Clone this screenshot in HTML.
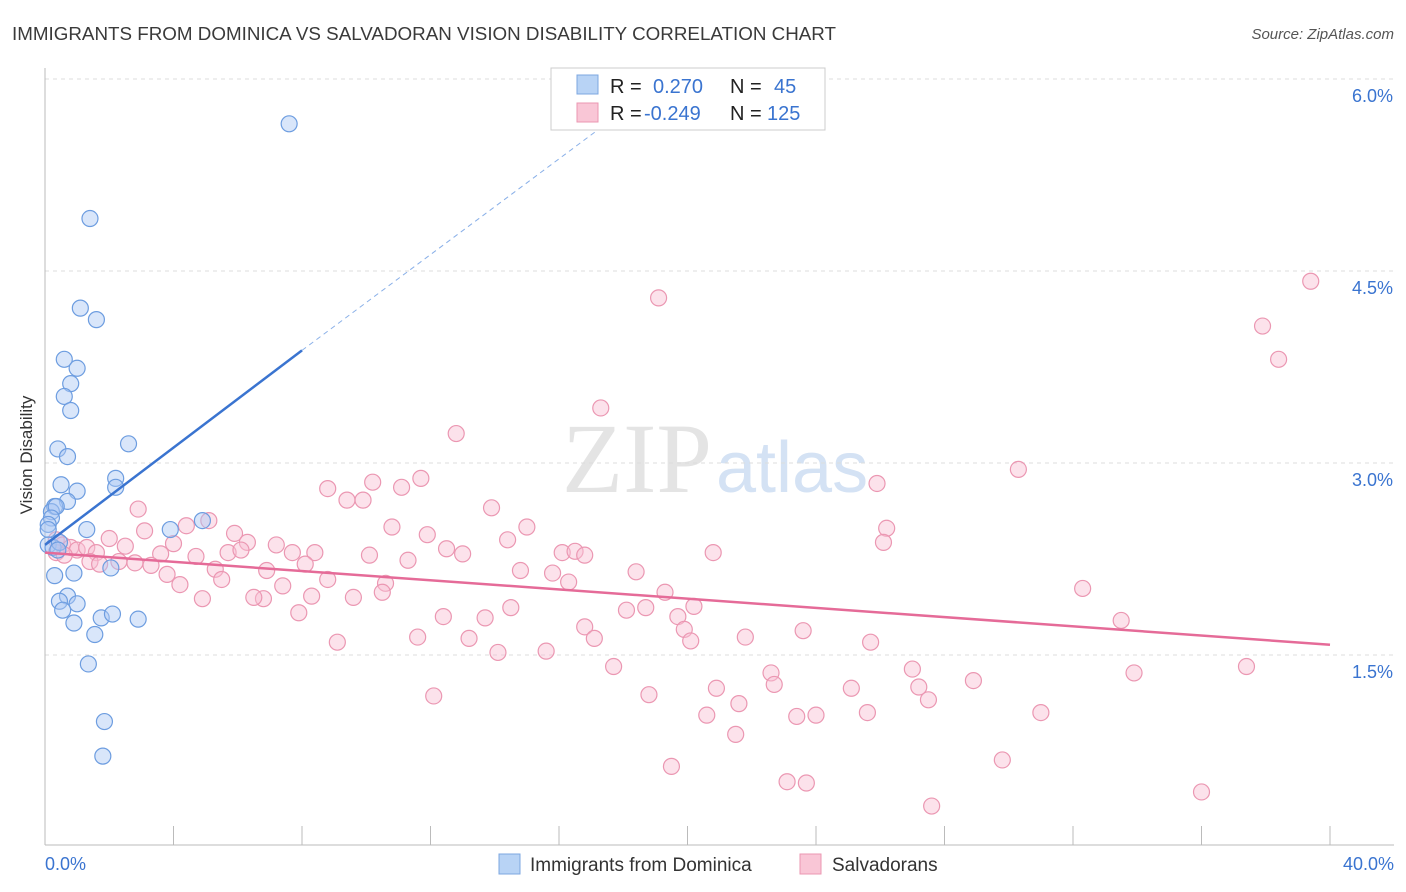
<!DOCTYPE html>
<html><head><meta charset="utf-8"><style>
body{margin:0;background:#fff;font-family:"Liberation Sans",sans-serif}
svg{display:block}
</style></head><body>
<svg id="c" width="1406" height="892">
<text x="12" y="40" font-size="18" fill="#3a3a3a" textLength="824" lengthAdjust="spacingAndGlyphs">IMMIGRANTS FROM DOMINICA VS SALVADORAN VISION DISABILITY CORRELATION CHART</text>
<text x="1394" y="39" font-size="15" fill="#555" font-style="italic" text-anchor="end">Source: ZipAtlas.com</text>
<text x="712" y="492" font-size="100" fill="#e4e4e4" text-anchor="end" font-family="Liberation Serif">ZIP</text>
<text x="716" y="492" font-size="72" fill="#d4e2f4">atlas</text>
<g id="grid"></g><g id="axes"></g>
<text x="32" y="455" font-size="17" fill="#333" text-anchor="middle" transform="rotate(-90 32 455)">Vision Disability</text>
<g id="marks"></g>
<g>
<rect x="551" y="68" width="274" height="62" fill="#fff" stroke="#ccc"/>
<rect x="577" y="75" width="21" height="19" fill="#b8d3f5" stroke="#7da7e0"/>
<rect x="577" y="103" width="21" height="19" fill="#f9c6d6" stroke="#eb97b2"/>
<text x="610" y="93" font-size="20" fill="#222">R = </text><text x="653" y="93" font-size="20" fill="#3a74d0">0.270</text>
<text x="730" y="93" font-size="20" fill="#222">N = </text><text x="774" y="93" font-size="20" fill="#3a74d0">45</text>
<text x="610" y="120" font-size="20" fill="#222">R = </text><text x="644" y="120" font-size="20" fill="#3a74d0">-0.249</text>
<text x="730" y="120" font-size="20" fill="#222">N = </text><text x="767" y="120" font-size="20" fill="#3a74d0">125</text>
</g>
<g>
<rect x="499" y="854" width="21" height="20" fill="#b8d3f5" stroke="#7da7e0"/>
<text x="530" y="871" font-size="19" fill="#333">Immigrants from Dominica</text>
<rect x="800" y="854" width="21" height="20" fill="#f9c6d6" stroke="#eb97b2"/>
<text x="832" y="871" font-size="19" fill="#333">Salvadorans</text>
</g>
</svg>
<script>
const yTicks=[1.5,3.0,4.5,6.0];
const xTickLabels=["0.0%","40.0%"];
const blueX=[7.6,1.4,1.1,1.6,0.6,1.0,0.8,0.6,0.8,2.6,0.4,0.7,2.2,0.5,1.0,2.2,0.7,0.3,0.2,0.35,0.2,0.1,0.1,1.3,3.9,4.9,0.1,0.25,0.45,0.4,2.05,0.3,0.9,0.7,0.45,1.0,0.55,0.9,1.75,2.1,2.9,1.55,1.35,1.85,1.8];
const blueY=[5.65,4.91,4.21,4.12,3.81,3.74,3.62,3.52,3.41,3.15,3.11,3.05,2.88,2.83,2.78,2.81,2.70,2.66,2.62,2.66,2.57,2.52,2.48,2.48,2.48,2.55,2.36,2.34,2.38,2.32,2.18,2.12,2.14,1.96,1.92,1.90,1.85,1.75,1.79,1.82,1.78,1.66,1.43,0.98,0.71];
const pinkX=[39.4,19.1,37.9,38.4,17.3,12.8,30.3,25.9,11.7,10.2,8.8,11.1,9.4,9.9,13.9,2.9,5.1,10.8,15.0,4.4,26.2,3.1,11.9,5.9,2.0,4.0,26.1,14.4,6.3,7.2,0.35,0.55,0.8,1.0,1.3,1.6,2.5,3.6,5.7,6.1,7.7,8.4,10.1,12.5,13.0,16.1,16.5,16.8,20.8,11.3,0.35,0.6,1.4,1.7,2.3,2.8,3.3,4.7,8.1,5.3,6.9,14.8,15.8,18.4,3.8,5.5,8.8,10.6,7.4,16.3,4.2,10.5,9.6,6.8,6.5,4.9,8.3,19.3,32.3,18.1,18.7,20.2,14.5,7.9,12.4,13.7,19.7,33.5,19.9,16.8,23.6,11.6,13.2,17.1,20.1,21.8,25.7,9.1,15.6,14.1,37.4,17.7,27.0,22.6,33.9,28.9,22.7,25.1,20.9,27.2,12.1,18.8,27.5,21.6,23.4,20.6,24.0,25.6,31.0,21.5,29.8,19.5,23.1,23.7,36.0,27.6];
const pinkY=[4.42,4.29,4.07,3.81,3.43,3.23,2.95,2.84,2.88,2.85,2.80,2.81,2.71,2.71,2.65,2.64,2.55,2.50,2.50,2.51,2.49,2.47,2.44,2.45,2.41,2.37,2.38,2.40,2.38,2.36,2.40,2.36,2.34,2.32,2.34,2.30,2.35,2.29,2.30,2.32,2.30,2.30,2.28,2.33,2.29,2.30,2.31,2.28,2.30,2.24,2.30,2.28,2.23,2.21,2.23,2.22,2.20,2.27,2.21,2.17,2.16,2.16,2.14,2.15,2.13,2.09,2.09,2.06,2.04,2.07,2.05,1.99,1.95,1.94,1.95,1.94,1.96,1.99,2.02,1.85,1.87,1.88,1.87,1.83,1.80,1.79,1.80,1.77,1.70,1.72,1.69,1.64,1.63,1.63,1.61,1.64,1.60,1.60,1.53,1.52,1.41,1.41,1.39,1.36,1.36,1.30,1.27,1.24,1.24,1.25,1.18,1.19,1.15,1.12,1.02,1.03,1.03,1.05,1.05,0.88,0.68,0.63,0.51,0.50,0.43,0.32];
const blueTrend=[[0,2.36],[8,3.88],[18,5.75]];
const pinkTrend=[[0,2.30],[40,1.58]];
const X=v=>45+v*32.125, Y=v=>847-v*128;
const NS="http://www.w3.org/2000/svg";
function mk(p,t,a){const e=document.createElementNS(NS,t);for(const k in a)e.setAttribute(k,a[k]);p.appendChild(e);return e;}
const grid=document.getElementById('grid'),axes=document.getElementById('axes'),marks=document.getElementById('marks');
yTicks.forEach(t=>{
 const l=mk(grid,'line',{x1:45,x2:1394,y1:Y(t),y2:Y(t),stroke:'#ddd','stroke-dasharray':'4,4'});
 
 
 const tx=mk(axes,'text',{x:1393,y:Y(t)+23,'font-size':18,fill:'#3a74d0','text-anchor':'end'});tx.textContent=t.toFixed(1)+'%';
 
 
});
mk(axes,'line',{x1:45,x2:45,y1:68,y2:845,stroke:'#bbb'});
mk(axes,'line',{x1:45,x2:1394,y1:845,y2:845,stroke:'#bbb'});
for(let i=0;i<=10;i++){const t=mk(axes,'line',{x1:X(i*4),x2:X(i*4),y1:826,y2:845,stroke:'#bbb'});
 
 }
[[0,'start',45],[40,'end',1394]].forEach((d,i)=>{const t=mk(axes,'text',{x:d[2],y:870,'font-size':18,fill:'#3a74d0','text-anchor':d[1]});t.textContent=xTickLabels[i];
 
 });
pinkX.forEach((x,i)=>{const c=mk(marks,'circle',{cx:X(x),cy:Y(pinkY[i]),r:8,fill:'rgba(248,190,210,0.45)',stroke:'#eb97b2','stroke-width':1.2});
 
 });
blueX.forEach((x,i)=>{const c=mk(marks,'circle',{cx:X(x),cy:Y(blueY[i]),r:8,fill:'rgba(170,200,245,0.45)',stroke:'#6d9de0','stroke-width':1.2});
 
 });
let b=mk(marks,'line',{x1:X(blueTrend[0][0]),y1:Y(blueTrend[0][1]),x2:X(blueTrend[1][0]),y2:Y(blueTrend[1][1]),stroke:'#3a74d0','stroke-width':2.5});


let bd=mk(marks,'line',{x1:X(blueTrend[1][0]),y1:Y(blueTrend[1][1]),x2:X(blueTrend[2][0]),y2:Y(blueTrend[2][1]),stroke:'#8ab0e8','stroke-width':1,'stroke-dasharray':'5,4'});


let p=mk(marks,'line',{x1:X(pinkTrend[0][0]),y1:Y(pinkTrend[0][1]),x2:X(pinkTrend[1][0]),y2:Y(pinkTrend[1][1]),stroke:'#e56b98','stroke-width':2.5});


</script>
</body></html>
